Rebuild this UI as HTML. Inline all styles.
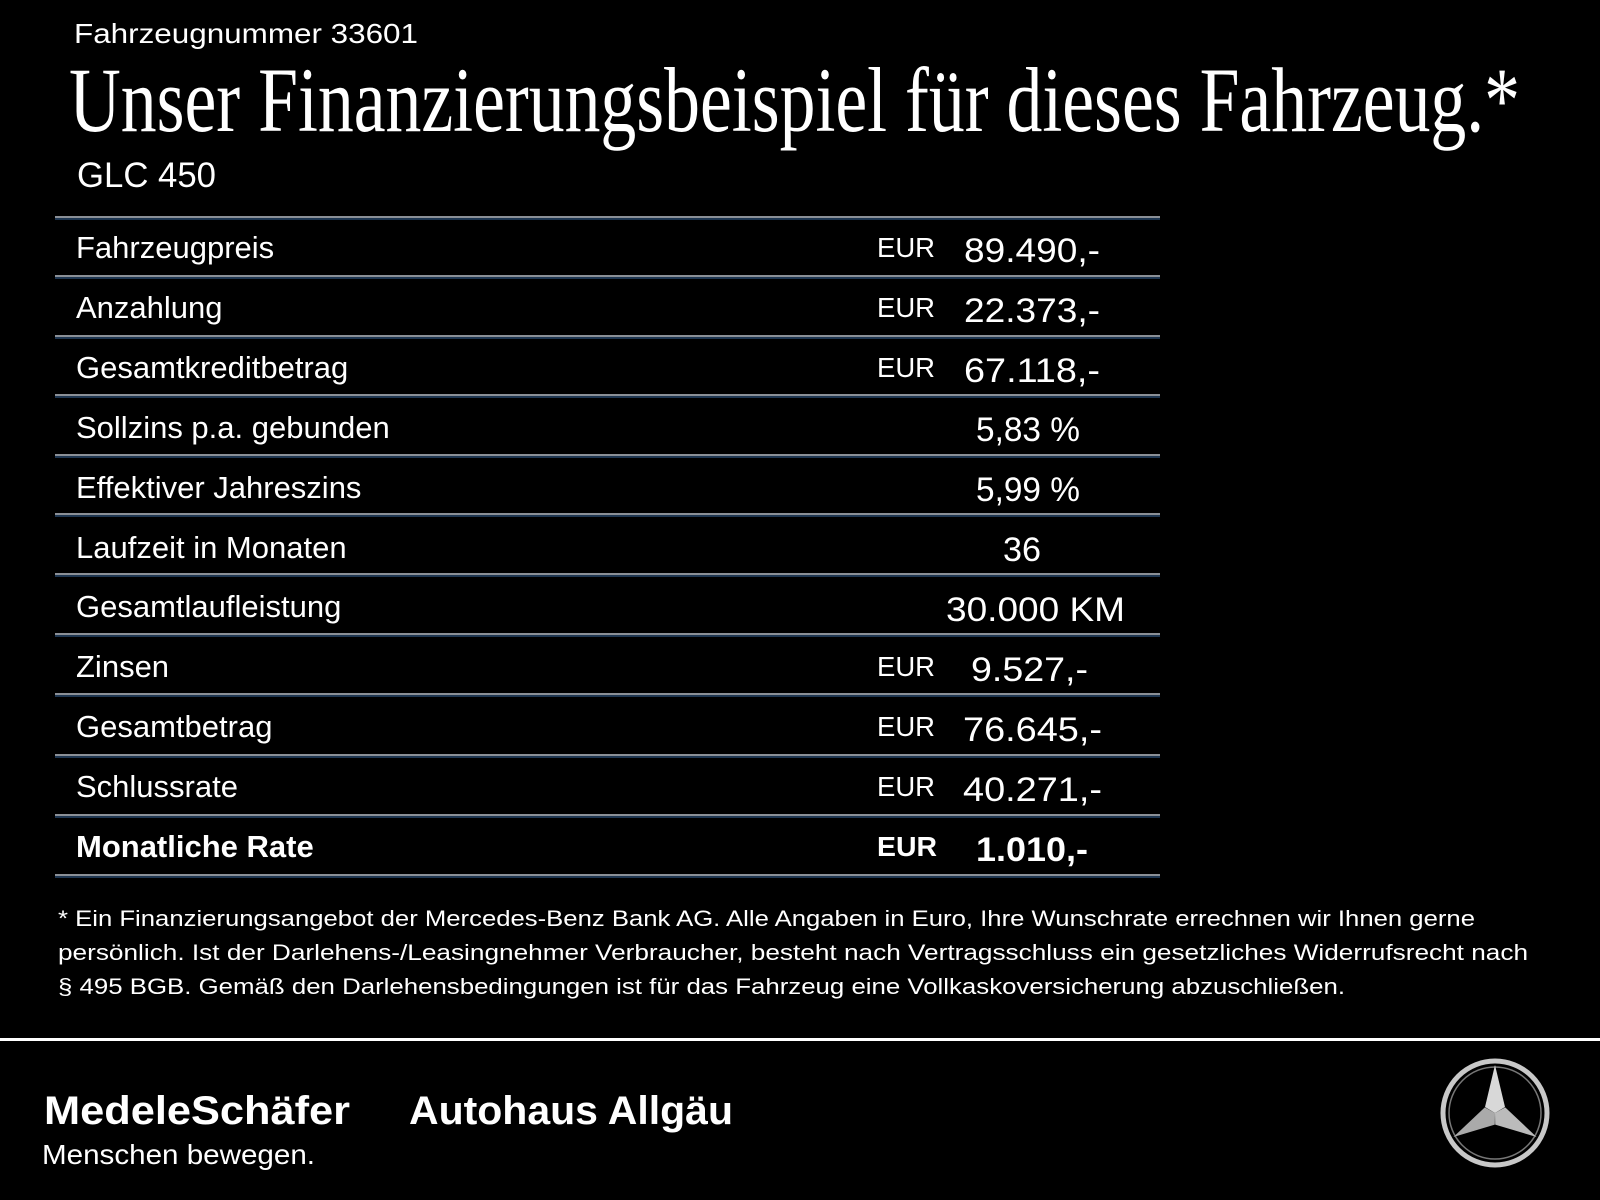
<!DOCTYPE html>
<html><head><meta charset="utf-8"><style>
html,body{margin:0;padding:0;background:#000;}
svg{display:block;}
text{fill:#fff;font-family:"Liberation Sans",sans-serif;}
</style></head><body>
<svg width="1600" height="1200" viewBox="0 0 1600 1200" xmlns="http://www.w3.org/2000/svg">
<rect width="1600" height="1200" fill="#000"/>
<text x="74" y="43" font-size="28" textLength="344" lengthAdjust="spacingAndGlyphs">Fahrzeugnummer 33601</text>
<text x="69" y="131" font-size="92" style="font-family:'Liberation Serif',serif" textLength="1451" lengthAdjust="spacingAndGlyphs">Unser Finanzierungsbeispiel für dieses Fahrzeug.*</text>
<text x="77" y="187" font-size="35" textLength="139" lengthAdjust="spacingAndGlyphs">GLC 450</text>

<g>
<rect x="55" y="216" width="1105" height="2" fill="#8a8f96"/><rect x="55" y="218" width="1105" height="2" fill="#1d3550"/>
<rect x="55" y="275" width="1105" height="2" fill="#8a8f96"/><rect x="55" y="277" width="1105" height="2" fill="#1d3550"/>
<rect x="55" y="335" width="1105" height="2" fill="#8a8f96"/><rect x="55" y="337" width="1105" height="2" fill="#1d3550"/>
<rect x="55" y="394" width="1105" height="2" fill="#8a8f96"/><rect x="55" y="396" width="1105" height="2" fill="#1d3550"/>
<rect x="55" y="454" width="1105" height="2" fill="#8a8f96"/><rect x="55" y="456" width="1105" height="2" fill="#1d3550"/>
<rect x="55" y="513" width="1105" height="2" fill="#8a8f96"/><rect x="55" y="515" width="1105" height="2" fill="#1d3550"/>
<rect x="55" y="573" width="1105" height="2" fill="#8a8f96"/><rect x="55" y="575" width="1105" height="2" fill="#1d3550"/>
<rect x="55" y="633" width="1105" height="2" fill="#8a8f96"/><rect x="55" y="635" width="1105" height="2" fill="#1d3550"/>
<rect x="55" y="693" width="1105" height="2" fill="#8a8f96"/><rect x="55" y="695" width="1105" height="2" fill="#1d3550"/>
<rect x="55" y="754" width="1105" height="2" fill="#8a8f96"/><rect x="55" y="756" width="1105" height="2" fill="#1d3550"/>
<rect x="55" y="814" width="1105" height="2" fill="#8a8f96"/><rect x="55" y="816" width="1105" height="2" fill="#1d3550"/>
<rect x="55" y="874" width="1105" height="2" fill="#8a8f96"/><rect x="55" y="876" width="1105" height="2" fill="#1d3550"/>
</g>

<g font-size="31">
<text x="76" y="258">Fahrzeugpreis</text>
<text x="76" y="318">Anzahlung</text>
<text x="76" y="378">Gesamtkreditbetrag</text>
<text x="76" y="438">Sollzins p.a. gebunden</text>
<text x="76" y="498">Effektiver Jahreszins</text>
<text x="76" y="558">Laufzeit in Monaten</text>
<text x="76" y="617">Gesamtlaufleistung</text>
<text x="76" y="677">Zinsen</text>
<text x="76" y="737">Gesamtbetrag</text>
<text x="76" y="797">Schlussrate</text>
<text x="76" y="857" font-weight="bold">Monatliche Rate</text>
</g>
<g font-size="28">
<text x="877" y="257" textLength="58" lengthAdjust="spacingAndGlyphs">EUR</text>
<text x="877" y="317" textLength="58" lengthAdjust="spacingAndGlyphs">EUR</text>
<text x="877" y="377" textLength="58" lengthAdjust="spacingAndGlyphs">EUR</text>
<text x="877" y="676" textLength="58" lengthAdjust="spacingAndGlyphs">EUR</text>
<text x="877" y="736" textLength="58" lengthAdjust="spacingAndGlyphs">EUR</text>
<text x="877" y="796" textLength="58" lengthAdjust="spacingAndGlyphs">EUR</text>
<text x="877" y="856" font-weight="bold" textLength="60" lengthAdjust="spacingAndGlyphs">EUR</text>
</g>
<g font-size="34">
<text x="964" y="262" textLength="136" lengthAdjust="spacingAndGlyphs">89.490,-</text>
<text x="964" y="322" textLength="136" lengthAdjust="spacingAndGlyphs">22.373,-</text>
<text x="964" y="382" textLength="136" lengthAdjust="spacingAndGlyphs">67.118,-</text>
<text x="976" y="441" textLength="104" lengthAdjust="spacingAndGlyphs">5,83 %</text>
<text x="976" y="501" textLength="104" lengthAdjust="spacingAndGlyphs">5,99 %</text>
<text x="1003" y="561" textLength="38" lengthAdjust="spacingAndGlyphs">36</text>
<text x="946" y="621" textLength="179" lengthAdjust="spacingAndGlyphs">30.000 KM</text>
<text x="971" y="681" textLength="117" lengthAdjust="spacingAndGlyphs">9.527,-</text>
<text x="963" y="741" textLength="139" lengthAdjust="spacingAndGlyphs">76.645,-</text>
<text x="963" y="801" textLength="139" lengthAdjust="spacingAndGlyphs">40.271,-</text>
<text x="976" y="861" font-weight="bold" textLength="112" lengthAdjust="spacingAndGlyphs">1.010,-</text>
</g>

<g font-size="22">
<text x="58" y="926" textLength="1417" lengthAdjust="spacingAndGlyphs">* Ein Finanzierungsangebot der Mercedes-Benz Bank AG. Alle Angaben in Euro, Ihre Wunschrate errechnen wir Ihnen gerne</text>
<text x="58" y="960" textLength="1470" lengthAdjust="spacingAndGlyphs">persönlich. Ist der Darlehens-/Leasingnehmer Verbraucher, besteht nach Vertragsschluss ein gesetzliches Widerrufsrecht nach</text>
<text x="58" y="994" textLength="1287" lengthAdjust="spacingAndGlyphs">§ 495 BGB. Gemäß den Darlehensbedingungen ist für das Fahrzeug eine Vollkaskoversicherung abzuschließen.</text>
</g>

<rect x="0" y="1038" width="1600" height="3" fill="#fff"/>

<text x="44" y="1124" font-size="40" font-weight="bold" textLength="306" lengthAdjust="spacingAndGlyphs">MedeleSchäfer</text>
<text x="409" y="1124" font-size="40" font-weight="bold" textLength="324" lengthAdjust="spacingAndGlyphs">Autohaus Allgäu</text>
<text x="42" y="1164" font-size="28" textLength="273" lengthAdjust="spacingAndGlyphs">Menschen bewegen.</text>

<g transform="translate(1495,1113)">
<circle r="52" fill="none" stroke="#c8c8c8" stroke-width="5"/>
<circle r="46" fill="none" stroke="#777" stroke-width="1.5"/>
<polygon points="0,-48 10,-6 0,0 -10,-6" fill="#d8d8d8"/>
<polygon points="0,-48 10,-6 0,0 -10,-6" fill="#bbb" transform="rotate(120)"/>
<polygon points="0,-48 10,-6 0,0 -10,-6" fill="#aaa" transform="rotate(240)"/>
</g>
</svg>
</body></html>
